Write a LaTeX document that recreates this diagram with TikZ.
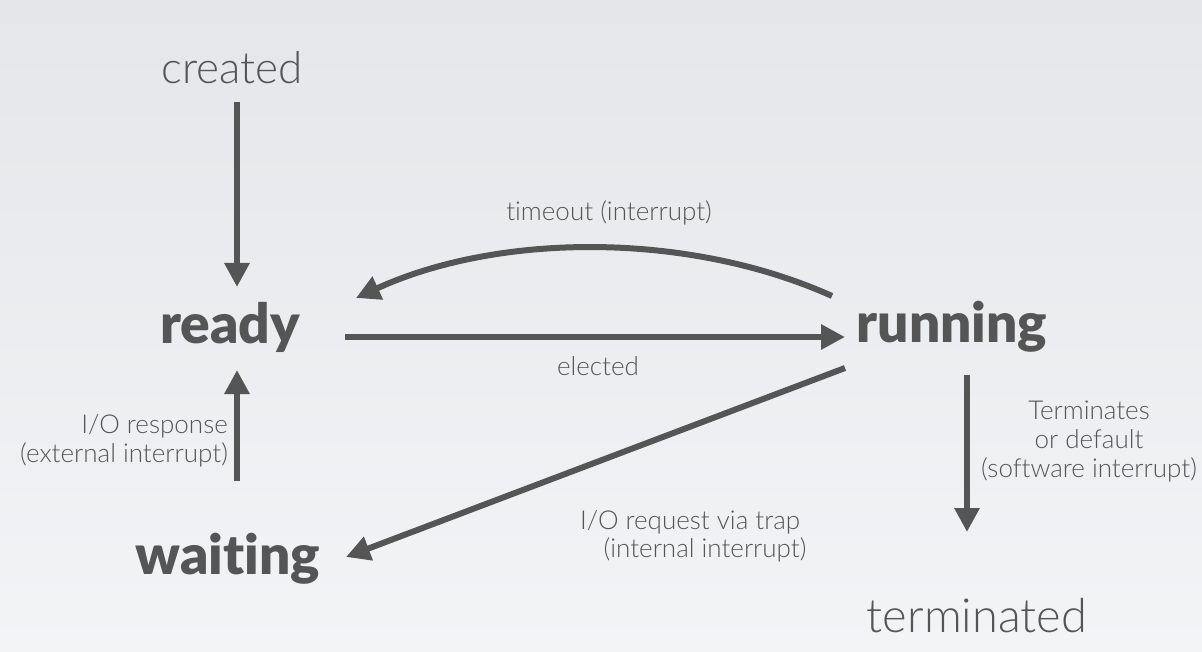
\documentclass[tikz,border=0pt]{standalone}
\usepackage{fontspec}
\setmainfont{Lato}[Ligatures=NoCommon]
\newfontfamily\lightfont{Lato Light}[Ligatures=NoCommon]
\newfontfamily\heavyfont{Lato Black}[Ligatures=NoCommon]
\usetikzlibrary{arrows.meta}
\definecolor{ink}{HTML}{555555}
\definecolor{bgtop}{HTML}{E5E6E9}
\definecolor{bgbot}{HTML}{F3F4F6}
\tikzset{
  arr/.style={draw=ink, line width=6pt, -{Triangle[length=24pt,width=24pt]}},
  state/.style={text=ink, inner sep=0pt, font=\heavyfont\fontsize{55}{58}\selectfont},
  lstate/.style={text=ink, inner sep=0pt, font=\lightfont\fontsize{44}{48}\selectfont},
  lbl/.style={text=ink, inner sep=0pt, font=\lightfont\fontsize{26}{29}\selectfont}
}
\begin{document}
\begin{tikzpicture}[x=1pt,y=-1pt]
\shade[top color=bgtop, bottom color=bgbot] (0,0) rectangle (1202,652);
\useasboundingbox (0,0) rectangle (1202,652);

\node[lstate] (created) at (232,68) {created};
\node[state] (ready) at (230,327) {ready};
\node[state] (running) at (952,327) {running};
\node[state] (waiting) at (228,559) {waiting};
\node[lstate, font=\lightfont\fontsize{47}{50}\selectfont] (terminated) at (977,616) {terminated};

\coordinate (createdOut) at (237,102);
\coordinate (readyIn) at (237,287);
\coordinate (readyOut) at (345,337);
\coordinate (runningIn) at (845,337);
\coordinate (runningTo) at (832,296);
\coordinate (readyFrom) at (356,298);
\coordinate (runningDown) at (845,368);
\coordinate (waitingIn) at (346,557);
\coordinate (waitingUp) at (237,481);
\coordinate (readyBelow) at (237,370);
\coordinate (runningBelow) at (967,375);
\coordinate (termIn) at (967,532);

\draw[arr] (createdOut) -- (readyIn);
\draw[arr] (readyOut) -- (runningIn);
\draw[arr] (runningTo) .. controls (690,232) and (500,232) .. (readyFrom);
\draw[arr] (runningDown) -- (waitingIn);
\draw[arr] (waitingUp) -- (readyBelow);
\draw[arr] (runningBelow) -- (termIn);

\node[lbl] (lelected) at (598,366) {elected};
\node[lbl] (ltimeout) at (609,213) {timeout (interrupt)};
\node[lbl, align=right, anchor=east] (lresp) at (228,441) {I/O response\\(external interrupt)};
\node[lbl] (lreq1) at (690,522) {I/O request via trap};
\node[lbl] (lreq2) at (705,550) {(internal interrupt)};
\node[lbl, align=center] (lterm) at (1089,442) {Terminates\\or default\\(software interrupt)};
\end{tikzpicture}
\end{document}
